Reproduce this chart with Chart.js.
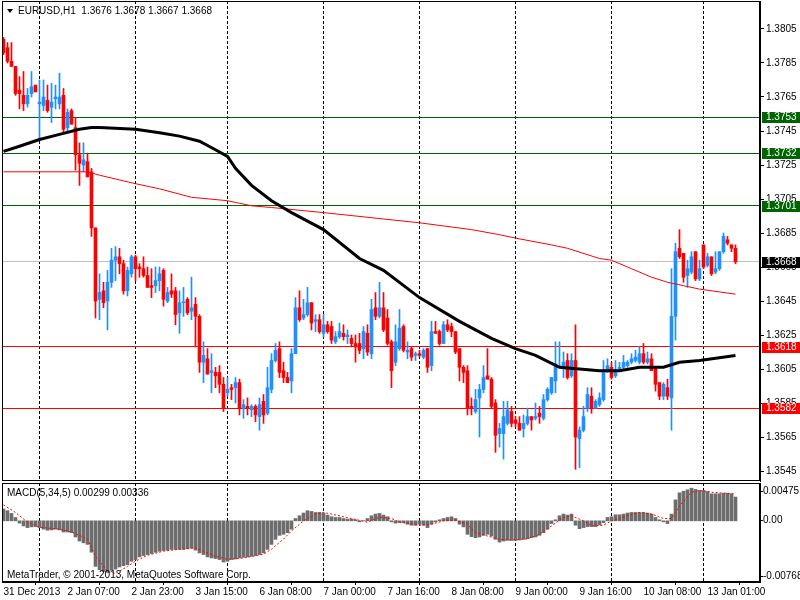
<!DOCTYPE html>
<html><head><meta charset="utf-8">
<script src="https://cdn.jsdelivr.net/npm/chart.js@4.4.1/dist/chart.umd.min.js"></script>
<style>
html,body{margin:0;padding:0;background:#fff;width:800px;height:600px;overflow:hidden}
#wrap{position:relative;width:800px;height:600px;font-family:"Liberation Sans",Arial,sans-serif}
canvas{position:absolute;left:0}
#c1{top:0}
#c2{top:482px}
.t{position:absolute;font-size:10px;line-height:12px;color:#000;white-space:pre}
#tri{position:absolute;left:7px;top:9px;width:0;height:0;border-left:3px solid transparent;border-right:3px solid transparent;border-top:4px solid #000}
</style></head>
<body><div id="wrap">
<canvas id="c1" width="800" height="482"></canvas>
<canvas id="c2" width="800" height="118"></canvas>
<div id="tri"></div>
<div class="t" id="hdr" style="left:18px;top:5px"></div>
<div class="t" id="macdTxt" style="left:7px;top:487px"></div>
<div class="t" style="left:7px;top:569px">MetaTrader, © 2001-2013, MetaQuotes Software Corp.</div>
</div>
<script>
// ---------- DATA ----------
const symbolName = 'EURUSD,H1';
const open = [
1.3799,1.3794,1.3786,1.3783,1.3769,1.3766,1.3761,1.3767,1.3772,1.3761,
1.3760,1.3763,1.3759,1.3764,1.3761,1.3766,1.3747,1.3757,1.3747,1.3731,
1.3725,1.3727,1.3721,1.3688,1.3646,1.3651,1.3645,1.3656,1.3669,1.3671,
1.3667,1.3651,1.3661,1.3671,1.3665,1.3664,1.3660,1.3654,1.3654,1.3657,
1.3663,1.3645,1.3651,1.3651,1.3638,1.3644,1.3646,1.3639,1.3643,1.3636,
1.3609,1.3611,1.3603,1.3603,1.3603,1.3596,1.3591,1.3594,1.3594,1.3597,
1.3582,1.3583,1.3581,1.3583,1.3577,1.3586,1.3579,1.3593,1.3610,1.3617,
1.3604,1.3600,1.3598,1.3614,1.3641,1.3635,1.3637,1.3644,1.3633,1.3634,
1.3626,1.3631,1.3630,1.3621,1.3624,1.3626,1.3624,1.3623,1.3620,1.3620,
1.3617,1.3626,1.3614,1.3641,1.3636,1.3641,1.3635,1.3621,1.3609,1.3617,
1.3630,1.3615,1.3617,1.3613,1.3614,1.3612,1.3617,1.3607,1.3627,1.3627,
1.3620,1.3631,1.3630,1.3627,1.3617,1.3606,1.3604,1.3583,1.3580,1.3588,
1.3593,1.3601,1.3599,1.3585,1.3567,1.3567,1.3573,1.3580,1.3575,1.3573,
1.3570,1.3573,1.3577,1.3576,1.3579,1.3576,1.3587,1.3591,1.3598,1.3606,
1.3607,1.3610,1.3601,1.3610,1.3564,1.3569,1.3582,1.3589,1.3582,1.3584,
1.3587,1.3604,1.3606,1.3601,1.3605,1.3606,1.3607,1.3609,1.3610,1.3609,
1.3614,1.3609,1.3611,1.3606,1.3597,1.3589,1.3594,1.3588,1.3636,1.3676,
1.3673,1.3660,1.3662,1.3674,1.3658,1.3678,1.3666,1.3671,1.3662,1.3664,
1.3674,1.3681,1.3678,1.3676];
const high = [
1.3800,1.3797,1.3797,1.3783,1.3777,1.3780,1.3770,1.3780,1.3772,1.3775,
1.3775,1.3772,1.3773,1.3772,1.3779,1.3770,1.3758,1.3758,1.3753,1.3738,
1.3738,1.3732,1.3723,1.3688,1.3661,1.3656,1.3663,1.3676,1.3677,1.3676,
1.3669,1.3665,1.3672,1.3672,1.3667,1.3671,1.3665,1.3664,1.3665,1.3665,
1.3664,1.3653,1.3661,1.3653,1.3651,1.3653,1.3647,1.3659,1.3647,1.3637,
1.3621,1.3617,1.3614,1.3606,1.3607,1.3600,1.3600,1.3596,1.3600,1.3599,
1.3587,1.3588,1.3584,1.3584,1.3588,1.3590,1.3606,1.3614,1.3620,1.3621,
1.3609,1.3603,1.3617,1.3647,1.3651,1.3646,1.3653,1.3644,1.3637,1.3637,
1.3637,1.3633,1.3633,1.3627,1.3632,1.3631,1.3628,1.3625,1.3625,1.3626,
1.3630,1.3631,1.3646,1.3650,1.3656,1.3650,1.3640,1.3622,1.3631,1.3640,
1.3631,1.3621,1.3618,1.3615,1.3616,1.3617,1.3617,1.3633,1.3633,1.3628,
1.3633,1.3634,1.3632,1.3627,1.3617,1.3607,1.3607,1.3588,1.3593,1.3596,
1.3607,1.3617,1.3600,1.3587,1.3573,1.3586,1.3586,1.3583,1.3577,1.3577,
1.3578,1.3582,1.3577,1.3585,1.3583,1.3590,1.3594,1.3600,1.3621,1.3621,
1.3615,1.3614,1.3614,1.3631,1.3571,1.3583,1.3594,1.3594,1.3587,1.3591,
1.3610,1.3611,1.3609,1.3610,1.3609,1.3613,1.3610,1.3614,1.3616,1.3618,
1.3620,1.3615,1.3614,1.3606,1.3597,1.3597,1.3599,1.3664,1.3679,1.3687,
1.3673,1.3669,1.3674,1.3674,1.3669,1.3678,1.3673,1.3671,1.3674,1.3674,
1.3685,1.3683,1.3678,1.3678];
const low = [
1.3790,1.3785,1.3783,1.3766,1.3758,1.3757,1.3759,1.3765,1.3768,1.3740,
1.3757,1.3756,1.3750,1.3758,1.3758,1.3744,1.3744,1.3749,1.3722,1.3713,
1.3721,1.3718,1.3683,1.3635,1.3634,1.3641,1.3628,1.3653,1.3657,1.3661,
1.3649,1.3648,1.3659,1.3657,1.3659,1.3659,1.3653,1.3647,1.3650,1.3651,
1.3642,1.3644,1.3647,1.3631,1.3626,1.3636,1.3637,1.3634,1.3618,1.3603,
1.3597,1.3602,1.3591,1.3594,1.3591,1.3580,1.3589,1.3587,1.3585,1.3578,
1.3576,1.3578,1.3577,1.3574,1.3569,1.3573,1.3578,1.3591,1.3609,1.3600,
1.3597,1.3597,1.3591,1.3614,1.3633,1.3634,1.3636,1.3628,1.3627,1.3626,
1.3624,1.3626,1.3620,1.3620,1.3623,1.3622,1.3620,1.3618,1.3609,1.3614,
1.3611,1.3613,1.3611,1.3634,1.3635,1.3627,1.3619,1.3594,1.3607,1.3616,
1.3615,1.3611,1.3610,1.3610,1.3612,1.3611,1.3603,1.3604,1.3626,1.3619,
1.3620,1.3627,1.3624,1.3614,1.3598,1.3597,1.3578,1.3578,1.3579,1.3565,
1.3591,1.3599,1.3582,1.3556,1.3559,1.3552,1.3572,1.3571,1.3571,1.3569,
1.3565,1.3572,1.3569,1.3575,1.3573,1.3575,1.3586,1.3590,1.3591,1.3606,
1.3600,1.3599,1.3600,1.3546,1.3547,1.3568,1.3580,1.3579,1.3582,1.3583,
1.3586,1.3603,1.3599,1.3600,1.3604,1.3605,1.3606,1.3608,1.3609,1.3608,
1.3608,1.3608,1.3604,1.3592,1.3587,1.3587,1.3587,1.3569,1.3622,1.3670,
1.3656,1.3653,1.3661,1.3657,1.3657,1.3664,1.3665,1.3660,1.3661,1.3663,
1.3673,1.3678,1.3674,1.3667];
const close = [
1.3791,1.3786,1.3783,1.3767,1.3767,1.3761,1.3766,1.3771,1.3768,1.3762,
1.3765,1.3757,1.3762,1.3765,1.3765,1.3746,1.3756,1.3749,1.3731,1.3726,
1.3728,1.3718,1.3688,1.3645,1.3650,1.3644,1.3656,1.3669,1.3671,1.3667,
1.3651,1.3663,1.3671,1.3664,1.3664,1.3660,1.3653,1.3653,1.3657,1.3661,
1.3646,1.3650,1.3649,1.3637,1.3644,1.3644,1.3638,1.3641,1.3636,1.3609,
1.3613,1.3602,1.3604,1.3601,1.3596,1.3582,1.3593,1.3593,1.3597,1.3582,
1.3584,1.3582,1.3583,1.3578,1.3584,1.3578,1.3594,1.3610,1.3616,1.3603,
1.3600,1.3597,1.3614,1.3641,1.3634,1.3637,1.3644,1.3632,1.3634,1.3627,
1.3631,1.3627,1.3622,1.3624,1.3627,1.3624,1.3625,1.3620,1.3618,1.3616,
1.3627,1.3615,1.3640,1.3636,1.3641,1.3628,1.3620,1.3604,1.3621,1.3629,
1.3616,1.3616,1.3612,1.3614,1.3613,1.3616,1.3606,1.3627,1.3626,1.3620,
1.3631,1.3628,1.3627,1.3615,1.3606,1.3603,1.3582,1.3582,1.3587,1.3593,
1.3600,1.3599,1.3583,1.3566,1.3570,1.3577,1.3581,1.3573,1.3573,1.3569,
1.3573,1.3577,1.3575,1.3577,1.3577,1.3587,1.3593,1.3600,1.3608,1.3607,
1.3609,1.3600,1.3610,1.3565,1.3569,1.3577,1.3590,1.3582,1.3586,1.3588,
1.3603,1.3607,1.3600,1.3604,1.3606,1.3609,1.3609,1.3611,1.3612,1.3614,
1.3609,1.3611,1.3604,1.3596,1.3589,1.3596,1.3589,1.3636,1.3674,1.3671,
1.3659,1.3664,1.3671,1.3658,1.3664,1.3665,1.3671,1.3661,1.3664,1.3674,
1.3683,1.3679,1.3676,1.3668];

// moving averages (bar index, price)
const maBlackIdx = [0,4,9,14,19,22,24,33,39,44,49,53,56,58,62,67,72,80,89,95,104,114,122,128,133,139,149,154,159,165,169,174,183];
const maBlackVal = [1.3733,1.3736,1.3740,1.3743,1.3746,1.3747,1.3747,1.3746,1.3744,1.3742,1.3739,1.3734,1.3730,1.3723,1.3713,1.3704,1.3697,1.3687,1.3670,1.3663,1.3647,1.3633,1.3623,1.3617,1.3613,1.3606,1.3604,1.3604,1.3606,1.3606,1.3609,1.3610,1.3613];
const maRedIdx = [0,21,24,33,39,47,56,62,67,80,104,117,124,128,137,141,149,152,157,162,166,170,174,183];
const maRedVal = [1.3721,1.3721,1.3719,1.3714,1.3711,1.3706,1.3704,1.3701,1.3700,1.3697,1.3691,1.3687,1.3684,1.3682,1.3678,1.3676,1.3670,1.3669,1.3664,1.3659,1.3656,1.3654,1.3652,1.3649];

// MACD(5,34,5)
const macdHist = [
0.00149,0.00127,0.00093,0.00042,-0.00029,-0.00064,-0.00085,-0.00076,-0.00072,-0.00085,
-0.00105,-0.00118,-0.00114,-0.00105,-0.00114,-0.00140,-0.00140,-0.00149,-0.00203,-0.00254,
-0.00276,-0.00296,-0.00394,-0.00572,-0.00613,-0.00635,-0.00648,-0.00622,-0.00606,-0.00580,
-0.00563,-0.00550,-0.00508,-0.00486,-0.00453,-0.00436,-0.00423,-0.00410,-0.00394,-0.00381,
-0.00372,-0.00368,-0.00359,-0.00359,-0.00359,-0.00359,-0.00352,-0.00343,-0.00368,-0.00403,
-0.00423,-0.00453,-0.00466,-0.00474,-0.00486,-0.00517,-0.00508,-0.00486,-0.00479,-0.00466,
-0.00457,-0.00453,-0.00445,-0.00436,-0.00423,-0.00403,-0.00359,-0.00296,-0.00232,-0.00182,
-0.00169,-0.00149,-0.00105,0.00029,0.00064,0.00098,0.00127,0.00118,0.00105,0.00105,
0.00098,0.00072,0.00051,0.00042,0.00042,0.00029,0.00022,0.00022,0.00013,-0.00013,
0.00002,0.00029,0.00064,0.00085,0.00093,0.00072,0.00051,-0.00013,-0.00029,-0.00022,
-0.00022,-0.00042,-0.00055,-0.00055,-0.00042,-0.00055,-0.00085,-0.00042,-0.00013,0.00013,
0.00029,0.00042,0.00051,0.00029,-0.00042,-0.00076,-0.00169,-0.00199,-0.00212,-0.00203,
-0.00182,-0.00169,-0.00191,-0.00232,-0.00267,-0.00254,-0.00245,-0.00245,-0.00245,-0.00241,
-0.00232,-0.00225,-0.00212,-0.00203,-0.00182,-0.00149,-0.00105,-0.00034,0.00013,0.00064,
0.00085,0.00072,0.00085,-0.00055,-0.00098,-0.00085,-0.00072,-0.00072,-0.00072,-0.00051,
-0.00022,0.00042,0.00051,0.00076,0.00076,0.00085,0.00098,0.00105,0.00105,0.00105,
0.00105,0.00098,0.00085,0.00042,0.00013,-0.00013,-0.00034,0.00085,0.00263,0.00352,
0.00372,0.00390,0.00410,0.00394,0.00381,0.00381,0.00368,0.00339,0.00339,0.00339,
0.00347,0.00347,0.00339,0.00299];
const signalIdx = [0,3,6,9,14,17,21,23,26,28,31,33,36,40,44,48,50,53,56,60,65,67,70,72,75,78,80,82,87,91,94,97,99,104,107,110,113,116,118,121,124,127,131,134,137,140,142,145,147,150,152,156,159,162,165,167,169,172,174,177,183];
const signalVal = [0.00199,0.00105,-0.00017,-0.00080,-0.00105,-0.00140,-0.00229,-0.00445,-0.00635,-0.00660,-0.00572,-0.00508,-0.00432,-0.00381,-0.00356,-0.00339,-0.00381,-0.00445,-0.00483,-0.00466,-0.00419,-0.00356,-0.00229,-0.00127,0.00000,0.00085,0.00105,0.00085,0.00029,-0.00017,0.00047,0.00029,-0.00017,-0.00055,-0.00042,0.00000,0.00009,-0.00042,-0.00149,-0.00191,-0.00232,-0.00241,-0.00225,-0.00169,-0.00064,0.00042,0.00064,0.00000,-0.00064,-0.00055,0.00000,0.00064,0.00105,0.00085,0.00029,0.00029,0.00187,0.00359,0.00381,0.00359,0.00336];

// axes
const priceTicks = [1.3805,1.3785,1.3765,1.3745,1.3725,1.3705,1.3685,1.3665,1.3645,1.3625,1.3605,1.3585,1.3565,1.3545];
const macdTickVals = [0.00475, 0, -0.00768];
const macdTickText = ['0.00475','0.00','-0.00768'];
const xTickIdx = [0,16,32,48,64,80,96,112,128,144,160,176];
const xTickText = ['31 Dec 2013','2 Jan 07:00','2 Jan 23:00','3 Jan 15:00','6 Jan 08:00','7 Jan 00:00','7 Jan 16:00','8 Jan 08:00','9 Jan 00:00','9 Jan 16:00','10 Jan 08:00','13 Jan 01:00'];
const dayStartIdx = [9,33,56,80,104,128,152,175];

// horizontal levels
const levelVals = [1.3753,1.3732,1.3701,1.3618,1.3582];
const levelColors = ['#006400','#006400','#006400','#ff0000','#ff0000'];

// ---------- RENDER ----------
const FONT = '"Liberation Sans", Arial, sans-serif';
const BULL = '#1e90ff', BEAR = '#ff0000';
const candleColors = open.map((o,i)=> close[i] >= o ? BULL : BEAR);
const lastIdx = close.length - 1;
const bidPrice = close[lastIdx];

document.getElementById('hdr').textContent =
  symbolName + '  ' + [open[lastIdx],high[lastIdx],low[lastIdx],close[lastIdx]].map(v=>v.toFixed(4)).join(' ');
document.getElementById('macdTxt').textContent =
  'MACD(5,34,5) ' + macdHist[lastIdx].toFixed(5) + ' ' + signalVal[signalVal.length-1].toFixed(5);

const X_MIN = -0.375, X_MAX = 189.125;
const crisp = v => Math.floor(v) + 0.5;

function drawDayGrid(chart){
  const {ctx, chartArea:a, scales:{x}} = chart;
  ctx.save();
  ctx.strokeStyle = '#000'; ctx.lineWidth = 1; ctx.setLineDash([3,2]);
  dayStartIdx.forEach(i=>{
    const px = crisp(x.getPixelForValue(i));
    ctx.beginPath(); ctx.moveTo(px, a.top); ctx.lineTo(px, a.bottom); ctx.stroke();
  });
  ctx.restore();
}
function drawFrame(chart){
  const {ctx, chartArea:a} = chart;
  ctx.save();
  ctx.strokeStyle = '#000'; ctx.lineWidth = 1; ctx.setLineDash([]);
  ctx.strokeRect(crisp(a.left), crisp(a.top), Math.round(a.right - a.left) - 1, Math.round(a.bottom - a.top) - 1);
  ctx.restore();
}

const mainPlugin = {
  id: 'mainDeco',
  beforeDatasetsDraw(chart){
    const {ctx, chartArea:a, scales:{y}} = chart;
    drawDayGrid(chart);
    ctx.save(); ctx.lineWidth = 1;
    ctx.strokeStyle = '#c0c0c0';
    let py = crisp(y.getPixelForValue(bidPrice));
    ctx.beginPath(); ctx.moveTo(a.left, py); ctx.lineTo(a.right, py); ctx.stroke();
    levelVals.forEach((v,k)=>{
      const p = crisp(y.getPixelForValue(v));
      ctx.strokeStyle = levelColors[k];
      ctx.beginPath(); ctx.moveTo(a.left, p); ctx.lineTo(a.right, p); ctx.stroke();
    });
    ctx.restore();
  },
  afterDraw(chart){
    const {ctx, chartArea:a, scales:{y}} = chart;
    drawFrame(chart);
    ctx.save();
    ctx.font = '10px ' + FONT; ctx.textBaseline = 'middle'; ctx.textAlign = 'left';
    const tag = (v, bg) => {
      const p = Math.round(y.getPixelForValue(v));
      ctx.fillStyle = bg; ctx.fillRect(a.right + 2, p - 5, 38, 11);
      ctx.fillStyle = '#fff'; ctx.fillText(v.toFixed(4), a.right + 6, p + 0.5);
    };
    levelVals.forEach((v,k)=> tag(v, levelColors[k]));
    tag(bidPrice, '#000');
    ctx.restore();
  }
};

const macdPlugin = {
  id: 'macdDeco',
  beforeDatasetsDraw(chart){ drawDayGrid(chart); },
  afterDraw(chart){
    const {ctx, chartArea:a, scales:{y}} = chart;
    drawFrame(chart);
    ctx.save();
    ctx.strokeStyle = '#000'; ctx.lineWidth = 1;
    ctx.beginPath(); ctx.moveTo(crisp(a.right), a.top); ctx.lineTo(crisp(a.right), a.bottom); ctx.stroke();
    ctx.font = '10px ' + FONT; ctx.fillStyle = '#000'; ctx.textBaseline = 'middle'; ctx.textAlign = 'left';
    macdTickVals.forEach((v,k)=>{
      let p = y.getPixelForValue(v);
      p = Math.min(Math.max(p, a.top + 8), a.bottom - 6);
      const cp = crisp(p);
      ctx.beginPath(); ctx.moveTo(a.right, cp); ctx.lineTo(a.right + 3, cp); ctx.stroke();
      ctx.fillText(macdTickText[k], a.right + 3, cp);
    });
    ctx.restore();
  }
};

new Chart(document.getElementById('c1'), {
  type: 'bar',
  data: { datasets: [
    { type:'line', label:'MA black', data: maBlackIdx.map((v,k)=>({x:v, y:maBlackVal[k]})),
      borderColor:'#000', borderWidth:3, pointRadius:0, tension:0, order:0 },
    { type:'line', label:'MA red', data: maRedIdx.map((v,k)=>({x:v, y:maRedVal[k]})),
      borderColor:'#ff0000', borderWidth:1, pointRadius:0, tension:0, order:0 },
    { type:'bar', label:'body', data: open.map((o,i)=>({x:i, y:[o, close[i]]})),
      backgroundColor: candleColors, barThickness:3, minBarLength:1, grouped:false, borderWidth:0, order:1 },
    { type:'bar', label:'wick', data: high.map((h,i)=>({x:i, y:[low[i], h]})),
      backgroundColor: candleColors, barThickness:1, grouped:false, borderWidth:0, order:2 }
  ]},
  options: {
    responsive:false, animation:false, events:[],
    layout:{ padding:{ left:2, top:1, right:0, bottom:1 } },
    plugins:{ legend:{display:false}, tooltip:{enabled:false} },
    scales:{
      x:{ type:'linear', min:X_MIN, max:X_MAX, offset:false, display:false },
      y:{ type:'linear', position:'right', min:1.353912, max:1.382147,
          afterBuildTicks: s => { s.ticks = priceTicks.map(v=>({value:v})); },
          afterFit: s => { s.width = 40; s.paddingTop = 0; s.paddingBottom = 0; },
          ticks:{ callback: v => Number(v).toFixed(4), font:{family:FONT, size:10}, color:'#000', padding:2, autoSkip:false },
          grid:{ drawOnChartArea:false, drawTicks:true, tickLength:4, color:'#000' },
          border:{ display:true, color:'#000' } }
    }
  },
  plugins:[mainPlugin]
});

new Chart(document.getElementById('c2'), {
  type: 'bar',
  data: { datasets: [
    { type:'line', label:'Signal', data: signalIdx.map((v,k)=>({x:v, y:signalVal[k]})),
      borderColor:'#ff0000', borderWidth:1, borderDash:[2,2], pointRadius:0, tension:0, order:0 },
    { type:'bar', label:'MACD', data: macdHist.map((v,i)=>({x:i, y:v})),
      backgroundColor:'#6d6d6d', barThickness:3, grouped:false, borderWidth:0, order:1 }
  ]},
  options: {
    responsive:false, animation:false, events:[],
    layout:{ padding:{ left:2, top:1, right:40, bottom:0 } },
    plugins:{ legend:{display:false}, tooltip:{enabled:false} },
    scales:{
      x:{ type:'linear', min:X_MIN, max:X_MAX, offset:false, position:'bottom',
          afterBuildTicks: s => { s.ticks = xTickIdx.map(v=>({value:v})); },
          afterFit: s => { s.height = 18; s.paddingLeft = 0; s.paddingRight = 0; },
          ticks:{ callback:(v,i)=> xTickText[i], align:'start', maxRotation:0, minRotation:0, autoSkip:false,
                  padding:1, font:{family:FONT, size:10}, color:'#000' },
          grid:{ drawOnChartArea:false, drawTicks:true, tickLength:3, color:'#000' },
          border:{ display:true, color:'#000' } },
      y:{ type:'linear', min:-0.00768, max:0.00475, display:false }
    }
  },
  plugins:[macdPlugin]
});
</script>
</body></html>
